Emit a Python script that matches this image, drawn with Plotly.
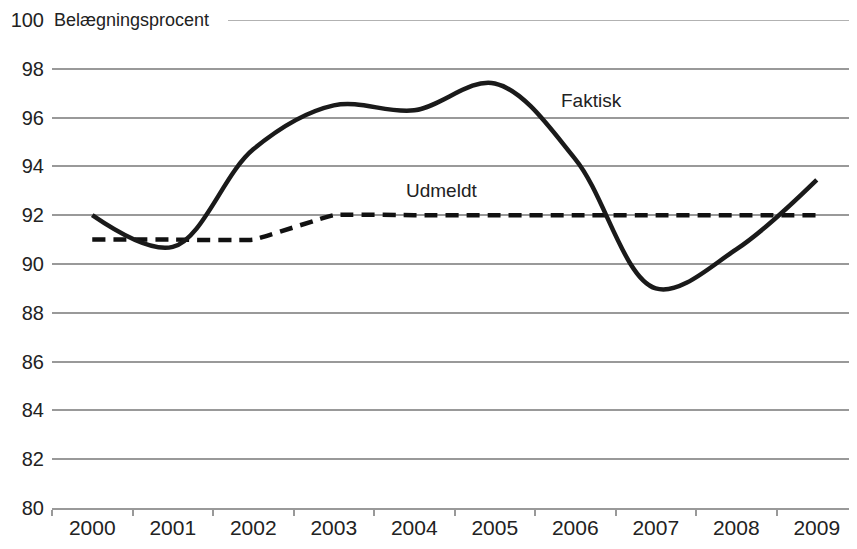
import plotly.graph_objects as go

years = ["2000", "2001", "2002", "2003", "2004", "2005", "2006", "2007", "2008", "2009"]
faktisk = [92.0, 90.7, 94.7, 96.5, 96.3, 97.4, 94.3, 89.0, 90.6, 93.45]
udmeldt = [91, 91, 91, 92, 92, 92, 92, 92, 92, 92]
y_ticks = [80, 82, 84, 86, 88, 90, 92, 94, 96, 98, 100]

font_family = "Liberation Sans, Arial, sans-serif"

fig = go.Figure()
fig.add_trace(go.Scatter(
    x=years, y=udmeldt, mode="lines", name="Udmeldt",
    line=dict(color="#111111", width=4.5, dash="13px,8px", shape="spline", smoothing=0.3),
))
fig.add_trace(go.Scatter(
    x=years, y=faktisk, mode="lines", name="Faktisk",
    line=dict(color="#1a1a1a", width=4.5, shape="spline", smoothing=1.0),
))

# annotations positioned by category index (5 -> 2005, 4 -> 2004)
fig.add_annotation(x=years.index("2005"), y=97.4, text="Faktisk", showarrow=False,
                   xshift=97, yshift=-17, font=dict(size=19, color="#222"))
fig.add_annotation(x=years.index("2004"), y=93.0, text="Udmeldt", showarrow=False,
                   xshift=27, yshift=0, font=dict(size=19, color="#222"))
fig.add_annotation(xref="paper", yref="y", x=0, y=100, xanchor="left",
                   text="Belægningsprocent", showarrow=False, xshift=0,
                   font=dict(size=18, color="#222"))

plot_w = 805
fig.add_shape(type="line", xref="paper", yref="y", x0=(228 - 52) / plot_w, x1=1,
              y0=100, y1=100, line=dict(color="#999999", width=1.5))

fig.update_layout(
    width=849, height=541,
    margin=dict(l=44, r=0, t=12, b=41),
    paper_bgcolor="white", plot_bgcolor="white",
    showlegend=False,
    font=dict(family=font_family, color="#222"),
)
fig.update_xaxes(
    type="category", showgrid=False, showline=True, linecolor="#999999", linewidth=2,
    ticks="outside", tickson="boundaries", ticklen=6, tickcolor="#999999", tickwidth=1.5,
    tickfont=dict(size=21, color="#222"), range=[-0.5, 9.5], automargin=False,
)
fig.update_yaxes(
    range=[80, 100], tickvals=y_ticks, showgrid=True, gridcolor="#999999", gridwidth=1.5,
    zeroline=False, showline=False, tickfont=dict(size=20, color="#222"),
    ticks="outside", ticklen=3, tickcolor="rgba(0,0,0,0)", automargin=False,
)

fig.write_html("out.html")
